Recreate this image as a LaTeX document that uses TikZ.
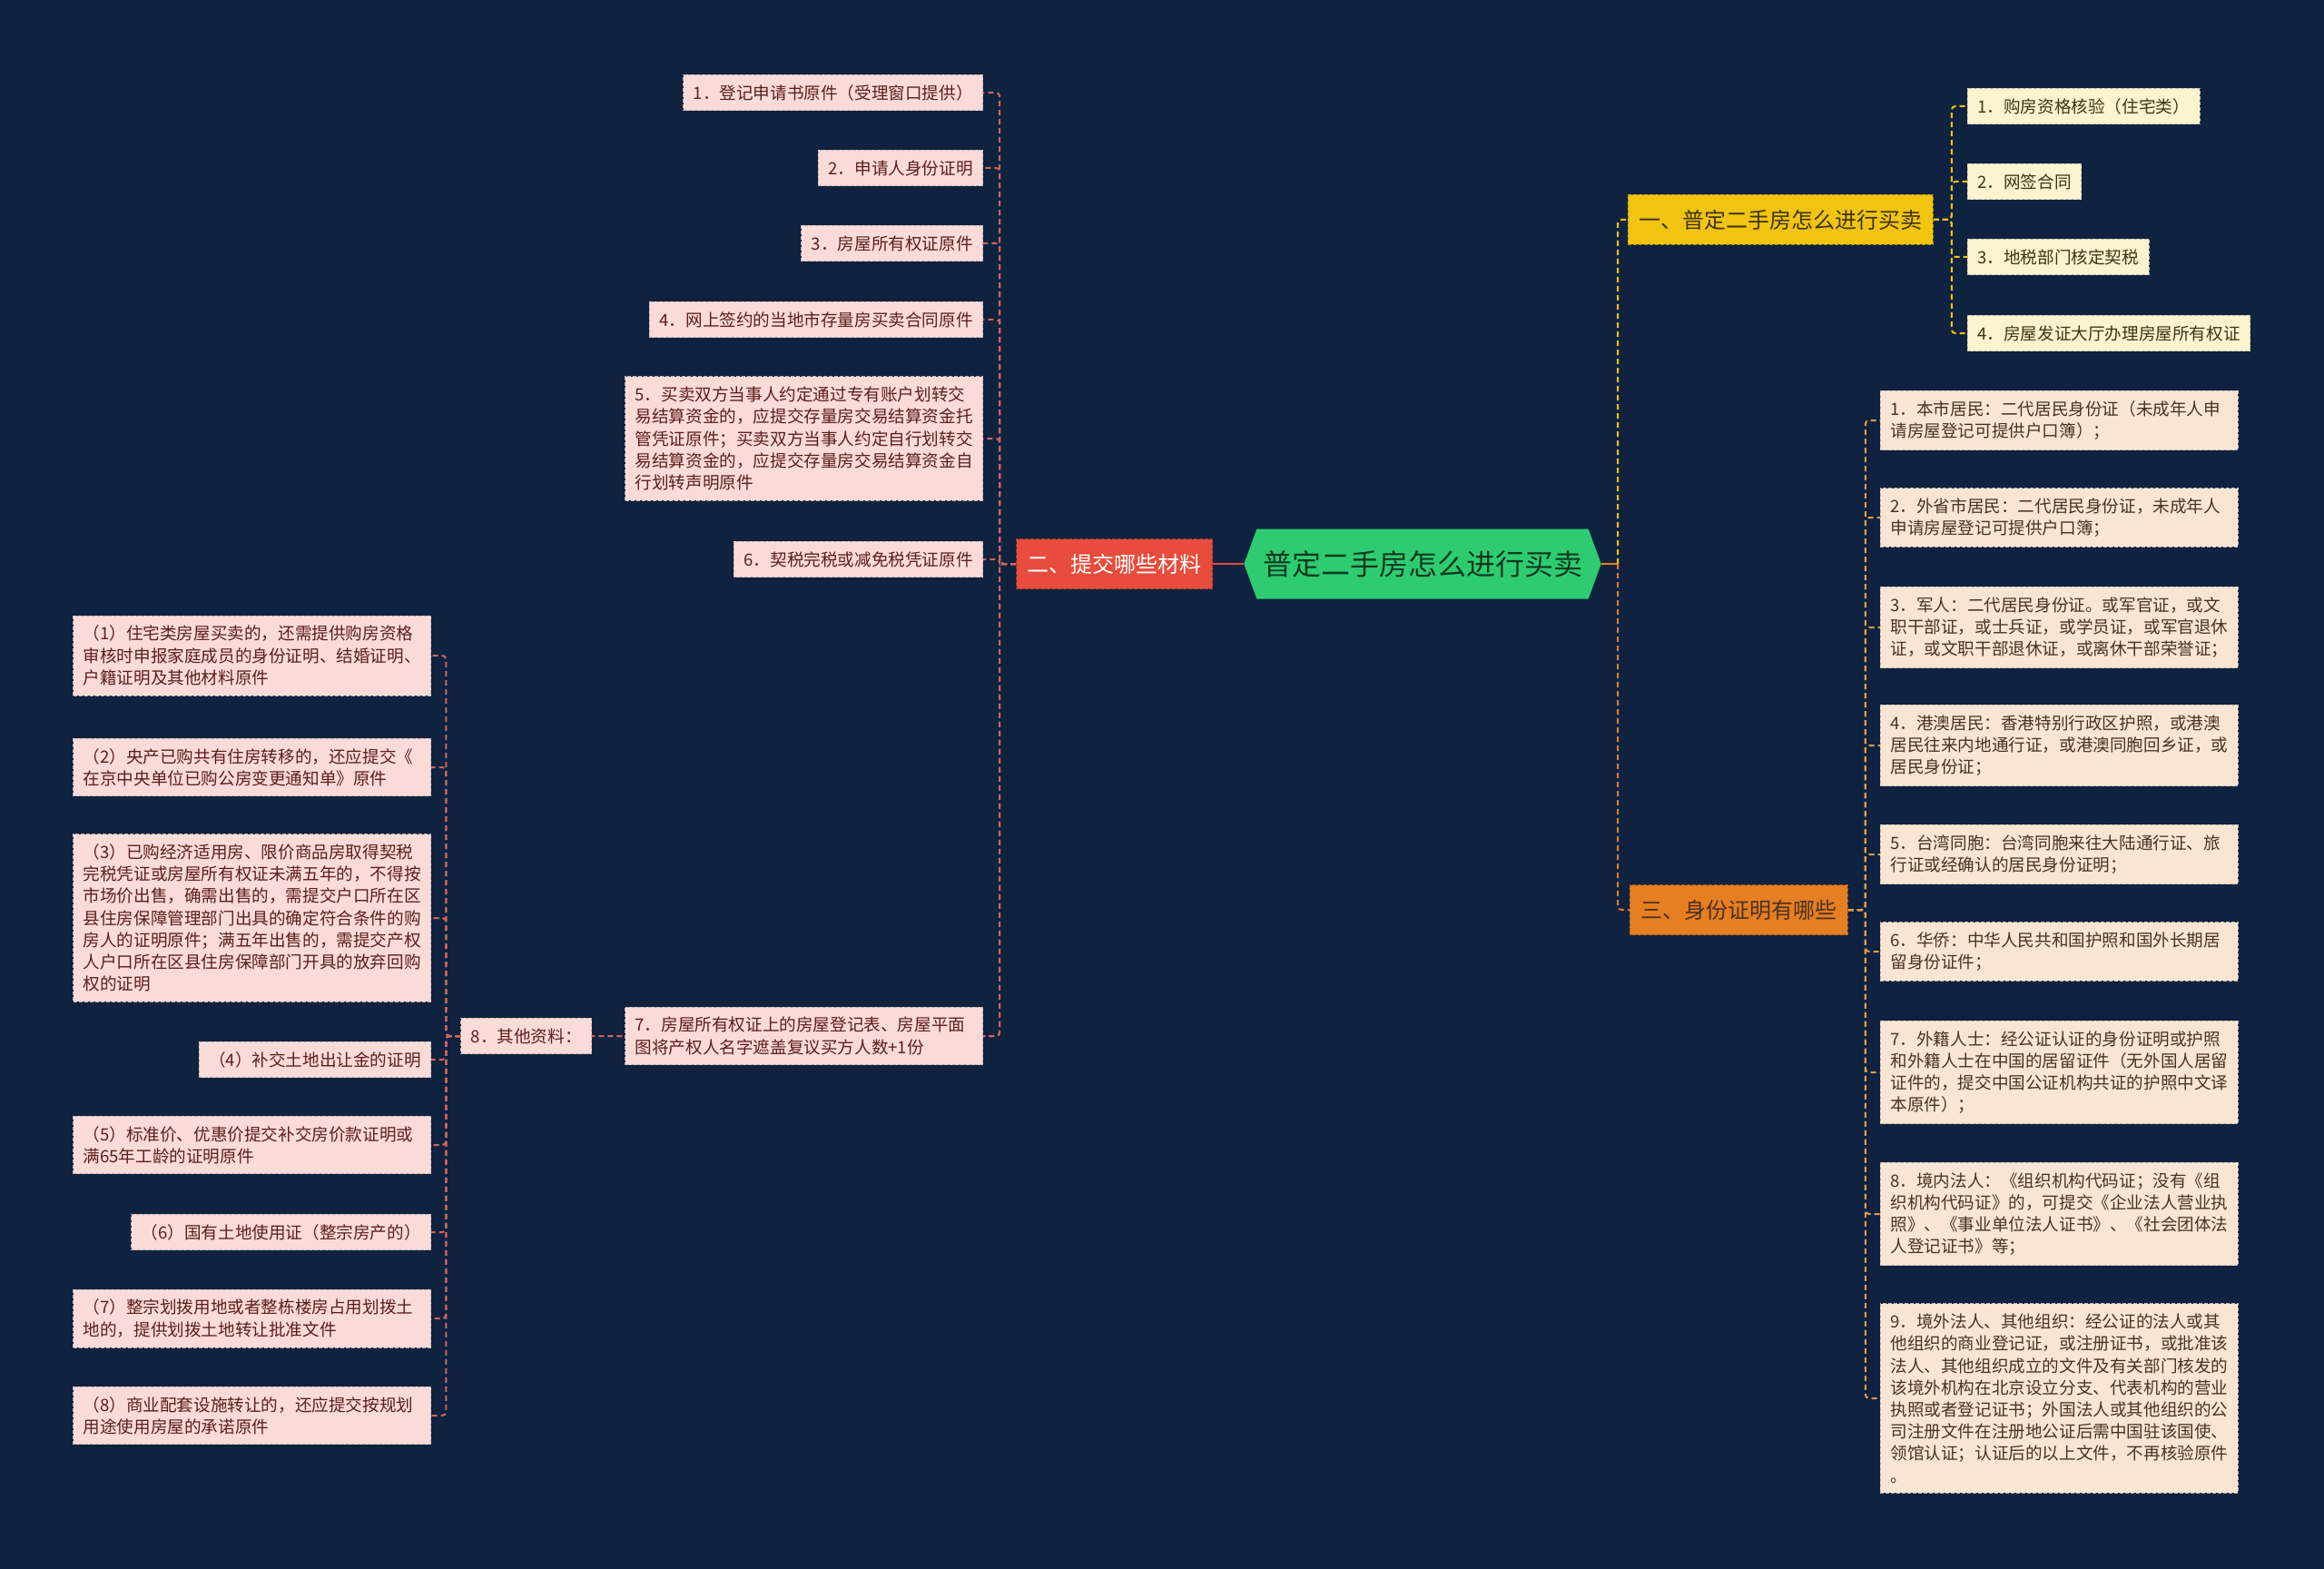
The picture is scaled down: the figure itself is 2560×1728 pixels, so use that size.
\documentclass[tikz,border=0pt]{standalone}
\usepackage{fontspec}
\setmainfont{Noto Sans CJK SC}
\usetikzlibrary{shapes.symbols}

\definecolor{bgnavy}{HTML}{0F2240}
\definecolor{rootgreen}{HTML}{2ECC71}
\definecolor{rootink}{HTML}{0D3A1E}
\definecolor{redbr}{HTML}{E74C3C}
\definecolor{yellowbr}{HTML}{F1C40F}
\definecolor{orangebr}{HTML}{E67E22}
\definecolor{pinkleaf}{HTML}{FADBD8}
\definecolor{pinkink}{HTML}{5C1F1A}
\definecolor{pinkline}{HTML}{D0655C}
\definecolor{creamleaf}{HTML}{FCF3CF}
\definecolor{creamink}{HTML}{3E3416}
\definecolor{peachleaf}{HTML}{FAE5D3}
\definecolor{peachink}{HTML}{4B3220}
\definecolor{peachline}{HTML}{E39A4A}

\pgfdeclarelayer{back}
\pgfdeclarelayer{links}
\pgfsetlayers{back,links,main}

\begin{document}
\begin{tikzpicture}[
    x=0.5pt, y=-0.5pt,
    topic/.style={signal, signal to=west and east, signal pointer angle=140, fill=rootgreen, text=rootink, font=\fontsize{16}{18}\selectfont, minimum width=192pt, minimum height=38.5pt},
    branch/.style={rectangle, fill=#1, draw=#1!70!black, dashed, dash pattern=on 2pt off 1pt, inner xsep=6pt, minimum height=27.5pt, font=\fontsize{12}{14}\selectfont},
    leaf/.style={rectangle, fill=#1, draw=#1!55!gray, dashed, dash pattern=on 2pt off 1pt, inner xsep=5.5pt, inner ysep=5.5pt, align=left, font=\fontsize{9.3}{12.1}\selectfont},
    wide/.style={text width=186pt},
    link/.style={draw=#1, dashed, dash pattern=on 3pt off 2pt, line width=1pt, rounded corners=2pt}
]
    \useasboundingbox (0,0) rectangle (2560,1728);
    \begin{pgfonlayer}{back}
        \fill[bgnavy] (0,0) rectangle (2560,1728);
    \end{pgfonlayer}

    % centre
    \node [topic] (root) at (1567,621) {普定二手房怎么进行买卖};

    % branches
    \node [branch=redbr, text=white, anchor=east] (b2) at (1336,621) {二、提交哪些材料};
    \node [branch=yellowbr, text=creamink, anchor=west] (b1) at (1793,242) {一、普定二手房怎么进行买卖};
    \node [branch=orangebr, text=peachink, anchor=west] (b3) at (1795,1002) {三、身份证明有哪些};

    % left: materials
    \node [leaf=pinkleaf, text=pinkink, anchor=east] (m1) at (1083,102) {1．登记申请书原件（受理窗口提供）};
    \node [leaf=pinkleaf, text=pinkink, anchor=east] (m2) at (1083,185) {2．申请人身份证明};
    \node [leaf=pinkleaf, text=pinkink, anchor=east] (m3) at (1083,268) {3．房屋所有权证原件};
    \node [leaf=pinkleaf, text=pinkink, anchor=east] (m4) at (1083,352) {4．网上签约的当地市存量房买卖合同原件};
    \node [leaf=pinkleaf, text=pinkink, wide, anchor=east] (m5) at (1083,483) {5．买卖双方当事人约定通过专有账户划转交\\易结算资金的，应提交存量房交易结算资金托\\管凭证原件；买卖双方当事人约定自行划转交\\易结算资金的，应提交存量房交易结算资金自\\行划转声明原件};
    \node [leaf=pinkleaf, text=pinkink, anchor=east] (m6) at (1083,616) {6．契税完税或减免税凭证原件};
    \node [leaf=pinkleaf, text=pinkink, wide, anchor=east] (m7) at (1083,1141) {7．房屋所有权证上的房屋登记表、房屋平面\\图将产权人名字遮盖复议买方人数+1份};
    \node [leaf=pinkleaf, text=pinkink, anchor=east] (m8) at (652,1141) {8．其他资料：};

    % left: other materials
    \node [leaf=pinkleaf, text=pinkink, wide, anchor=east] (s1) at (475,722) {（1）住宅类房屋买卖的，还需提供购房资格\\审核时申报家庭成员的身份证明、结婚证明、\\户籍证明及其他材料原件};
    \node [leaf=pinkleaf, text=pinkink, wide, anchor=east] (s2) at (475,845) {（2）央产已购共有住房转移的，还应提交《\\在京中央单位已购公房变更通知单》原件};
    \node [leaf=pinkleaf, text=pinkink, wide, anchor=east] (s3) at (475,1011) {（3）已购经济适用房、限价商品房取得契税\\完税凭证或房屋所有权证未满五年的，不得按\\市场价出售，确需出售的，需提交户口所在区\\县住房保障管理部门出具的确定符合条件的购\\房人的证明原件；满五年出售的，需提交产权\\人户口所在区县住房保障部门开具的放弃回购\\权的证明};
    \node [leaf=pinkleaf, text=pinkink, anchor=east] (s4) at (475,1167) {（4）补交土地出让金的证明};
    \node [leaf=pinkleaf, text=pinkink, wide, anchor=east] (s5) at (475,1261) {（5）标准价、优惠价提交补交房价款证明或\\满65年工龄的证明原件};
    \node [leaf=pinkleaf, text=pinkink, anchor=east] (s6) at (475,1357) {（6）国有土地使用证（整宗房产的）};
    \node [leaf=pinkleaf, text=pinkink, wide, anchor=east] (s7) at (475,1452) {（7）整宗划拨用地或者整栋楼房占用划拨土\\地的，提供划拨土地转让批准文件};
    \node [leaf=pinkleaf, text=pinkink, wide, anchor=east] (s8) at (475,1559) {（8）商业配套设施转让的，还应提交按规划\\用途使用房屋的承诺原件};

    % right: steps
    \node [leaf=creamleaf, text=creamink, anchor=west] (y1) at (2167,117) {1．购房资格核验（住宅类）};
    \node [leaf=creamleaf, text=creamink, anchor=west] (y2) at (2167,200) {2．网签合同};
    \node [leaf=creamleaf, text=creamink, anchor=west] (y3) at (2167,283) {3．地税部门核定契税};
    \node [leaf=creamleaf, text=creamink, anchor=west] (y4) at (2167,367) {4．房屋发证大厅办理房屋所有权证};

    % right: identity papers
    \node [leaf=peachleaf, text=peachink, wide, anchor=west] (o1) at (2071,463) {1．本市居民：二代居民身份证（未成年人申\\请房屋登记可提供户口簿）；};
    \node [leaf=peachleaf, text=peachink, wide, anchor=west] (o2) at (2071,570) {2．外省市居民：二代居民身份证，未成年人\\申请房屋登记可提供户口簿；};
    \node [leaf=peachleaf, text=peachink, wide, anchor=west] (o3) at (2071,691) {3．军人：二代居民身份证。或军官证，或文\\职干部证，或士兵证，或学员证，或军官退休\\证，或文职干部退休证，或离休干部荣誉证；};
    \node [leaf=peachleaf, text=peachink, wide, anchor=west] (o4) at (2071,821) {4．港澳居民：香港特别行政区护照，或港澳\\居民往来内地通行证，或港澳同胞回乡证，或\\居民身份证；};
    \node [leaf=peachleaf, text=peachink, wide, anchor=west] (o5) at (2071,941) {5．台湾同胞：台湾同胞来往大陆通行证、旅\\行证或经确认的居民身份证明；};
    \node [leaf=peachleaf, text=peachink, wide, anchor=west] (o6) at (2071,1048) {6．华侨：中华人民共和国护照和国外长期居\\留身份证件；};
    \node [leaf=peachleaf, text=peachink, wide, anchor=west] (o7) at (2071,1181) {7．外籍人士：经公证认证的身份证明或护照\\和外籍人士在中国的居留证件（无外国人居留\\证件的，提交中国公证机构共证的护照中文译\\本原件）；};
    \node [leaf=peachleaf, text=peachink, wide, anchor=west] (o8) at (2071,1337) {8．境内法人：《组织机构代码证；没有《组\\织机构代码证》的，可提交《企业法人营业执\\照》、《事业单位法人证书》、《社会团体法\\人登记证书》等；};
    \node [leaf=peachleaf, text=peachink, wide, anchor=west] (o9) at (2071,1540) {9．境外法人、其他组织：经公证的法人或其\\他组织的商业登记证，或注册证书，或批准该\\法人、其他组织成立的文件及有关部门核发的\\该境外机构在北京设立分支、代表机构的营业\\执照或者登记证书；外国法人或其他组织的公\\司注册文件在注册地公证后需中国驻该国使、\\领馆认证；认证后的以上文件，不再核验原件\\。};

    % joints
    \coordinate (jr) at ([xshift=9pt]root.east);
    \coordinate (j2) at ([xshift=-9pt]b2.west);
    \coordinate (j8) at ([xshift=-8pt]m8.west);
    \coordinate (j1) at ([xshift=10pt]b1.east);
    \coordinate (j3) at ([xshift=9.5pt]b3.east);

    \begin{pgfonlayer}{links}
        \draw [redbr, line width=1.2pt] (root.west) -- (b2.east);
        \draw [orangebr, line width=1.2pt] (root.east) -- (jr);
        \draw [link=yellowbr] (jr) |- (b1.west);
        \draw [link=orangebr] (jr) |- (b3.west);
        \foreach \k in {1,...,8}
            \draw [link=pinkline] (b2.west) -- (j2) |- (m\k.east);
        \foreach \k in {1,...,8}
            \draw [link=pinkline] (m8.west) -- (j8) |- (s\k.east);
        \foreach \k in {1,...,4}
            \draw [link=yellowbr] (b1.east) -- (j1) |- (y\k.west);
        \foreach \k in {1,...,9}
            \draw [link=peachline] (b3.east) -- (j3) |- (o\k.west);
    \end{pgfonlayer}
\end{tikzpicture}
\end{document}
